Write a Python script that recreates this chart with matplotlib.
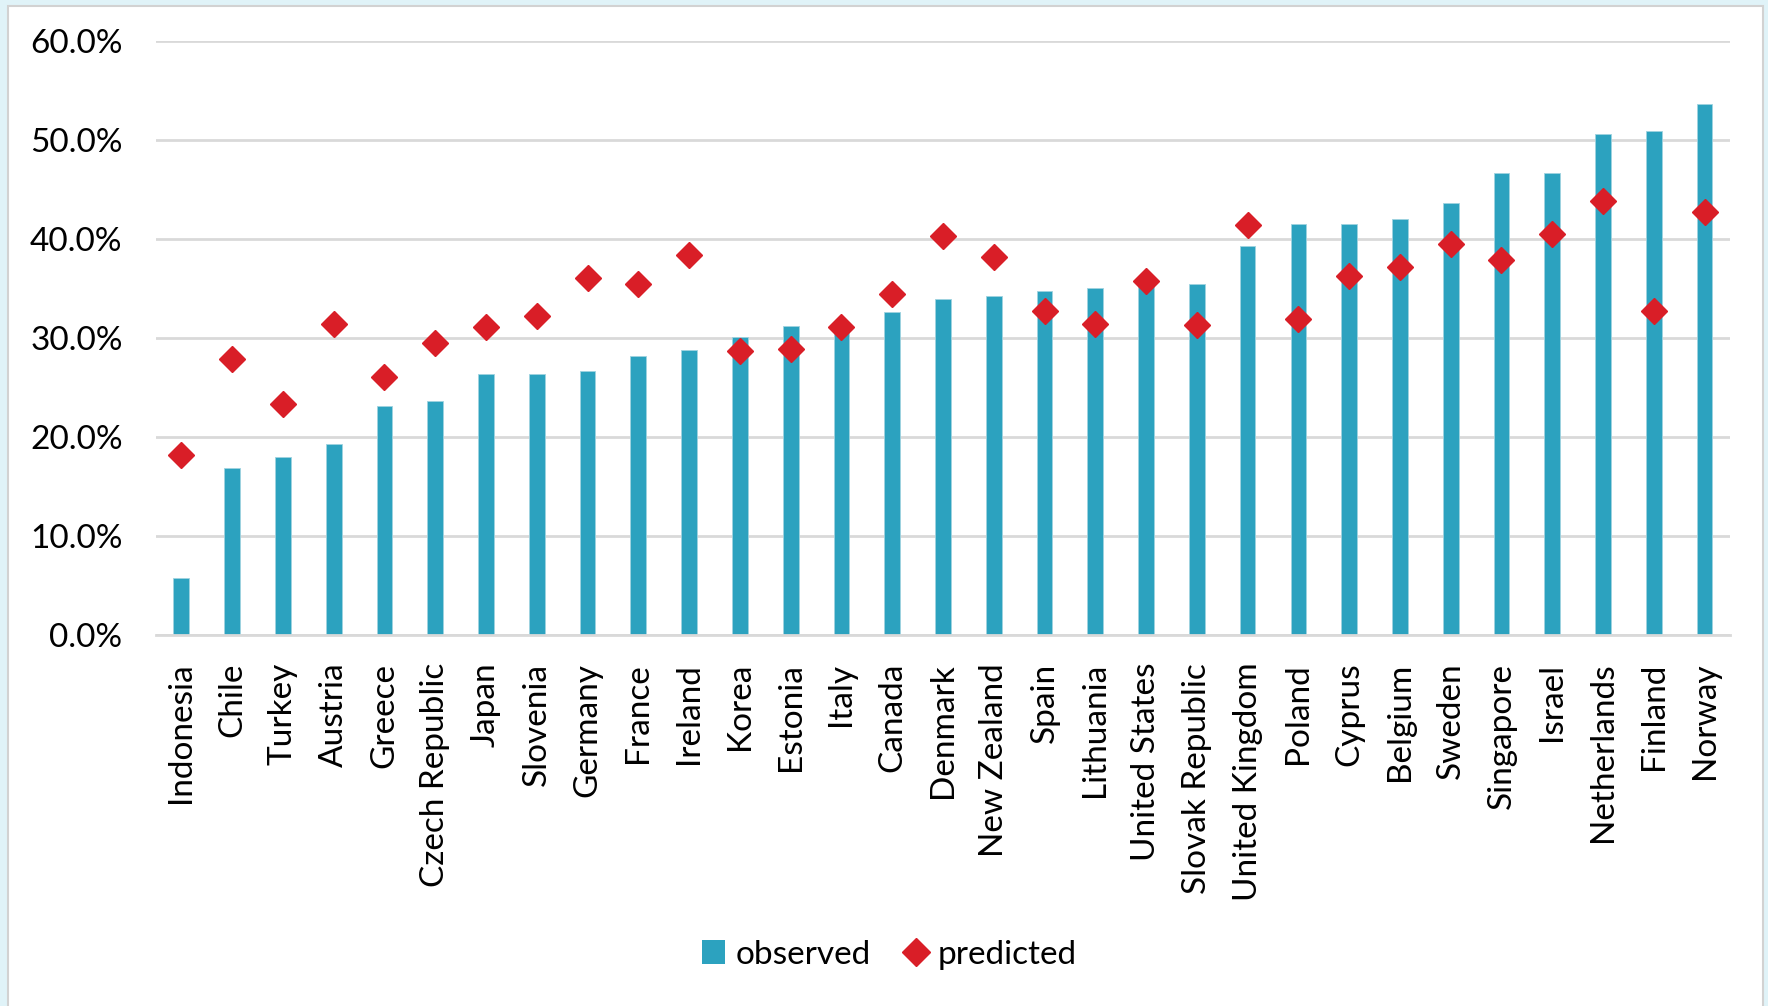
import numpy as np
import matplotlib
matplotlib.use("Agg")
import matplotlib.pyplot as plt
from matplotlib.patches import Rectangle
from matplotlib.lines import Line2D
from matplotlib.ticker import PercentFormatter

plt.rcParams['font.family'] = ['Lato', 'DejaVu Sans']

countries = ['Indonesia', 'Chile', 'Turkey', 'Austria', 'Greece', 'Czech Republic',
             'Japan', 'Slovenia', 'Germany', 'France', 'Ireland', 'Korea', 'Estonia',
             'Italy', 'Canada', 'Denmark', 'New Zealand', 'Spain', 'Lithuania',
             'United States', 'Slovak Republic', 'United Kingdom', 'Poland', 'Cyprus',
             'Belgium', 'Sweden', 'Singapore', 'Israel', 'Netherlands', 'Finland', 'Norway']

# shares in percent
observed = [5.8, 16.9, 18.0, 19.3, 23.1, 23.6, 26.3, 26.3, 26.6, 28.2, 28.8, 30.1, 31.2,
            30.8, 32.6, 33.9, 34.2, 34.7, 35.0, 35.5, 35.4, 39.3, 41.5, 41.5, 42.0,
            43.6, 46.6, 46.6, 50.6, 50.9, 53.6]
predicted = [18.2, 27.9, 23.3, 31.4, 26.0, 29.5, 31.1, 32.2, 36.0, 35.4, 38.4, 28.7, 28.9,
             31.1, 34.4, 40.3, 38.2, 32.7, 31.4, 35.7, 31.3, 41.4, 31.9, 36.2, 37.1,
             39.5, 37.9, 40.5, 43.8, 32.7, 42.7]

bar_color = '#2ca2bf'
dot_color = '#d91e27'
grid_color = '#d9d9d9'

fig = plt.figure(figsize=(17.68, 10.06), dpi=100, facecolor='#e0f3f8')

# white chart panel with grey border, kept behind the axes
panel = Rectangle((0.0045, -0.02), 0.9927, 1.014, transform=fig.transFigure,
                  facecolor='white', edgecolor='#d2d2d2', linewidth=1.5, zorder=-10)
fig.patches.append(panel)

ax = fig.add_axes([0.0882, 0.3688, 0.8903, 0.5908])
ax.set_facecolor('none')
ax.set_zorder(1)

x = np.arange(len(countries))
ax.bar(x, observed, width=0.31, color=bar_color, edgecolor='#9fd3e0',
       linewidth=0.6, zorder=2)
ax.plot(x, predicted, linestyle='none', marker='D', markersize=13,
        color=dot_color, zorder=3)

ax.set_xlim(-0.5, len(countries) - 0.5)
ax.set_ylim(0, 60)
ax.set_yticks(np.arange(0, 61, 10))
ax.yaxis.set_major_formatter(PercentFormatter(decimals=1))
ax.grid(axis='y', color=grid_color, linewidth=2.0, zorder=1)
ax.set_axisbelow(True)

for side in ['top', 'right', 'left']:
    ax.spines[side].set_visible(False)
ax.spines['bottom'].set_color(grid_color)
ax.spines['bottom'].set_linewidth(2.0)

ax.set_xticks(x)
ax.set_xticklabels(countries, rotation=90, fontsize=24, color='black')
ax.tick_params(axis='x', length=0, pad=20)
ax.tick_params(axis='y', length=0, pad=24, labelsize=24, labelcolor='black')

handles = [
    Rectangle((0, 0), 1, 1, facecolor=bar_color, edgecolor='none'),
    Line2D([], [], linestyle='none', marker='D', markersize=14, color=dot_color),
]
leg = fig.legend(handles, ['observed', 'predicted'], loc='center', ncol=2,
                 bbox_to_anchor=(0.503, 0.051), frameon=False, fontsize=24,
                 handlelength=0.7, handleheight=0.7, handletextpad=0.3,
                 columnspacing=1.0)
leg.set_zorder(2)

fig.savefig('out.png', dpi=100, facecolor=fig.get_facecolor())
